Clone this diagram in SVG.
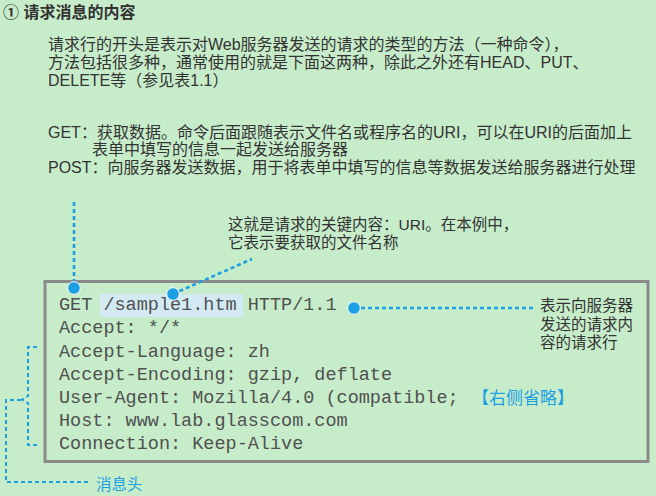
<svg xmlns="http://www.w3.org/2000/svg" width="656" height="496" viewBox="0 0 656 496">
<style>
  .t{font-family:"Liberation Sans","Noto Sans CJK SC",sans-serif;font-size:16px;fill:#333333}
  .c{font-family:"Liberation Sans","Noto Sans CJK SC",sans-serif;font-size:15.5px;fill:#333333}
  .b{font-family:"Liberation Sans","Noto Sans CJK SC",sans-serif;fill:#1d9fe3}
  .m{font-family:"Liberation Mono","Courier New",monospace;font-size:18.5px;fill:#505050}
  .dash{fill:none;stroke:#1d9fe3;stroke-width:2.6;stroke-dasharray:4 3}
  .dash2{fill:none;stroke:#1d9fe3;stroke-width:2;stroke-dasharray:4 3}
  .dot{fill:#1d9fe3;stroke:#ffffff;stroke-width:1}
</style>
<rect x="0" y="0" width="656" height="496" fill="#c7ecca"/>

<g id="title">
  <text x="3" y="18" class="t" style="font-weight:bold">① 请求消息的内容</text>
</g>

<g id="intro">
  <text x="48" y="50" class="t">请求行的开头是表示对Web服务器发送的请求的类型的方法（一种命令），</text>
  <text x="48" y="68" class="t">方法包括很多种，通常使用的就是下面这两种，除此之外还有HEAD、PUT、</text>
  <text x="48" y="86" class="t">DELETE等（参见表1.1）</text>
</g>

<g id="methods">
  <text x="48" y="138" class="t">GET：获取数据。命令后面跟随表示文件名或程序名的URI，可以在URI的后面加上</text>
  <text x="92" y="155" class="t">表单中填写的信息一起发送给服务器</text>
  <text x="48" y="173" class="t">POST：向服务器发送数据，用于将表单中填写的信息等数据发送给服务器进行处理</text>
</g>

<g id="uri-note">
  <text x="228" y="230" class="c">这就是请求的关键内容：URI。在本例中，</text>
  <text x="228" y="248" class="c">它表示要获取的文件名称</text>
</g>

<g id="request-box">
  <rect x="45" y="281.5" width="603" height="180" fill="#c7ecca" stroke="#8a8a8a" stroke-width="3"/>
  <rect x="100" y="294" width="143" height="23" fill="#d3eaf4"/>
  <text x="59" y="310" class="m">GET /sample1.htm HTTP/1.1</text>
  <text x="59" y="333" class="m">Accept: */*</text>
  <text x="59" y="356.5" class="m">Accept-Language: zh</text>
  <text x="59" y="379.7" class="m">Accept-Encoding: gzip, deflate</text>
  <text x="59" y="403" class="m">User-Agent: Mozilla/4.0 (compatible;</text>
  <text x="472" y="404" class="b" style="font-size:17px">【右侧省略】</text>
  <text x="59" y="426" class="m">Host: www.lab.glasscom.com</text>
  <text x="59" y="449" class="m">Connection: Keep-Alive</text>
</g>

<g id="request-line-note">
  <text x="540" y="311" class="c">表示向服务器</text>
  <text x="540" y="330" class="c">发送的请求内</text>
  <text x="540" y="348" class="c">容的请求行</text>
</g>

<g id="header-label">
  <text x="96" y="490" class="b" style="font-size:15.5px">消息头</text>
</g>

<g id="connectors">
  <path class="dash" d="M74,202 V288"/>
  <path class="dash" d="M173,294 L252,259"/>
  <path class="dash" d="M354,308 H533"/>
  <path class="dash2" d="M37,347 H28 V396 L22,399.5 L28,403 V445 H37"/>
  <path class="dash2" d="M21,400 H6 V482 H88"/>
  <circle class="dot" cx="74" cy="288" r="6.3"/>
  <circle class="dot" cx="173" cy="294" r="6.3"/>
  <circle class="dot" cx="354" cy="308" r="6.3"/>
</g>
</svg>
